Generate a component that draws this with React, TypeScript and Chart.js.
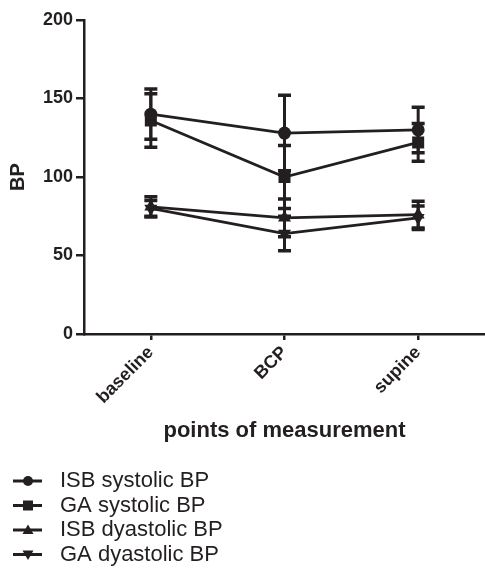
import React, { useEffect, useRef } from "react";
import { Chart, registerables } from "chart.js";

Chart.register(...registerables);

const categories = ["baseline", "BCP", "supine"];
const seriesLabels = ["ISB systolic BP", "GA systolic BP", "ISB dyastolic BP", "GA dyastolic BP"];
const isbSystolic = [140, 128, 130];
const isbSystolicSD = [16, 24, 14.5];
const gaSystolic = [136, 100, 122];
const gaSystolicSD = [17, 20, 12];
const isbDiastolic = [81, 74, 76];
const isbDiastolicSD = [6.5, 12, 8.5];
const gaDiastolic = [80, 64, 74];
const gaDiastolicSD = [5, 11, 7.5];
const yTicks = [0, 50, 100, 150, 200];

const INK = "#231f20";
const FONT = "'Liberation Sans', Arial, Helvetica, sans-serif";

const errorBarPlugin = {
  id: "errorBars",
  beforeDatasetsDraw(chart: any) {
    const ctx = chart.ctx;
    const yScale = chart.scales.y;
    ctx.save();
    ctx.strokeStyle = INK;
    chart.data.datasets.forEach((ds: any, i: number) => {
      const meta = chart.getDatasetMeta(i);
      meta.data.forEach((pt: any, j: number) => {
        const v = ds.data[j];
        const sd = ds.sd[j];
        const yTop = yScale.getPixelForValue(v + sd);
        const yBot = yScale.getPixelForValue(v - sd);
        const x = pt.x;
        ctx.lineWidth = 3;
        ctx.beginPath();
        ctx.moveTo(x, yTop);
        ctx.lineTo(x, yBot);
        ctx.stroke();
        ctx.lineWidth = 3.5;
        ctx.beginPath();
        ctx.moveTo(x - 6.5, yTop);
        ctx.lineTo(x + 6.5, yTop);
        ctx.moveTo(x - 6.5, yBot);
        ctx.lineTo(x + 6.5, yBot);
        ctx.stroke();
      });
    });
    ctx.restore();
  },
};

const legendPlugin = {
  id: "columnLegend",
  afterDraw(chart: any) {
    const ctx = chart.ctx;
    ctx.save();
    chart.data.datasets.forEach((ds: any, i: number) => {
      const y = 481 + i * 24.5;
      ctx.strokeStyle = INK;
      ctx.fillStyle = INK;
      ctx.lineWidth = 3;
      ctx.beginPath();
      ctx.moveTo(13, y);
      ctx.lineTo(42, y);
      ctx.stroke();
      const cx = 28;
      ctx.beginPath();
      if (ds.pointStyle === "circle") {
        ctx.arc(cx, y, 5, 0, Math.PI * 2);
      } else if (ds.pointStyle === "rect") {
        ctx.rect(cx - 5, y - 5, 10, 10);
      } else if (ds.pointRotation === 180) {
        ctx.moveTo(cx - 5.5, y - 4);
        ctx.lineTo(cx + 5.5, y - 4);
        ctx.lineTo(cx, y + 5.5);
        ctx.closePath();
      } else {
        ctx.moveTo(cx - 5.5, y + 4);
        ctx.lineTo(cx + 5.5, y + 4);
        ctx.lineTo(cx, y - 5.5);
        ctx.closePath();
      }
      ctx.fill();
      ctx.font = `22px ${FONT}`;
      ctx.textBaseline = "middle";
      ctx.textAlign = "left";
      ctx.fillText(ds.label, 60, y);
    });
    ctx.restore();
  },
};

export default function App() {
  const ref = useRef<HTMLCanvasElement>(null);
  useEffect(() => {
    if (!ref.current) return;
    const common = {
      borderColor: INK,
      backgroundColor: INK,
      pointBackgroundColor: INK,
      pointBorderColor: INK,
      borderWidth: 2.8,
      pointBorderWidth: 0,
      tension: 0,
      fill: false,
      clip: false,
    };
    const chart = new Chart(ref.current, {
      type: "line",
      data: {
        labels: categories,
        datasets: [
          { ...common, label: seriesLabels[0], data: isbSystolic, sd: isbSystolicSD, pointStyle: "circle", pointRadius: 6.5, pointRotation: 0 },
          { ...common, label: seriesLabels[1], data: gaSystolic, sd: gaSystolicSD, pointStyle: "rect", pointRadius: 8.5, pointRotation: 0 },
          { ...common, label: seriesLabels[2], data: isbDiastolic, sd: isbDiastolicSD, pointStyle: "triangle", pointRadius: 7.5, pointRotation: 0 },
          { ...common, label: seriesLabels[3], data: gaDiastolic, sd: gaDiastolicSD, pointStyle: "triangle", pointRadius: 7.5, pointRotation: 180 },
        ] as any,
      },
      options: {
        animation: false,
        responsive: true,
        maintainAspectRatio: false,
        layout: { autoPadding: false, padding: { top: 20, right: 0, left: 0, bottom: 132 } },
        plugins: { legend: { display: false }, tooltip: { enabled: false } },
        scales: {
          x: {
            type: "category",
            offset: true,
            grid: { display: true, drawOnChartArea: false, drawTicks: true, tickLength: 6, color: INK, lineWidth: 2.5, offset: false },
            border: { display: true, color: INK, width: 2.5 },
            ticks: {
              color: INK,
              font: { family: FONT, size: 18, weight: "bold" },
              minRotation: 45,
              maxRotation: 45,
              padding: 2,
            },
            title: {
              display: true,
              text: "points of measurement",
              color: INK,
              font: { family: FONT, size: 22, weight: "bold" },
              padding: { top: 0, bottom: 1 },
            },
            afterFit: (scale: any) => {
              scale.height = 111;
              scale.paddingRight = 0;
            },
          },
          y: {
            min: 0,
            max: 200,
            afterBuildTicks: (scale: any) => {
              scale.ticks = yTicks.map((v) => ({ value: v }));
            },
            grid: { display: true, drawOnChartArea: false, drawTicks: true, tickLength: 8, color: INK, lineWidth: 2.5 },
            border: { display: true, color: INK, width: 2.5 },
            ticks: {
              color: INK,
              font: { family: FONT, size: 18, weight: "bold" },
              padding: 3,
            },
            title: {
              display: true,
              text: "BP",
              color: INK,
              font: { family: FONT, size: 20, weight: "bold" },
              padding: { top: 6, bottom: 0 },
            },
            afterFit: (scale: any) => {
              scale.width = 84;
            },
          },
        },
      } as any,
      plugins: [errorBarPlugin, legendPlugin],
    });
    return () => chart.destroy();
  }, []);
  return (
    <div style={{ position: "fixed", left: 0, top: 0, width: 485, height: 577, background: "#fff" }}>
      <canvas ref={ref} />
    </div>
  );
}
